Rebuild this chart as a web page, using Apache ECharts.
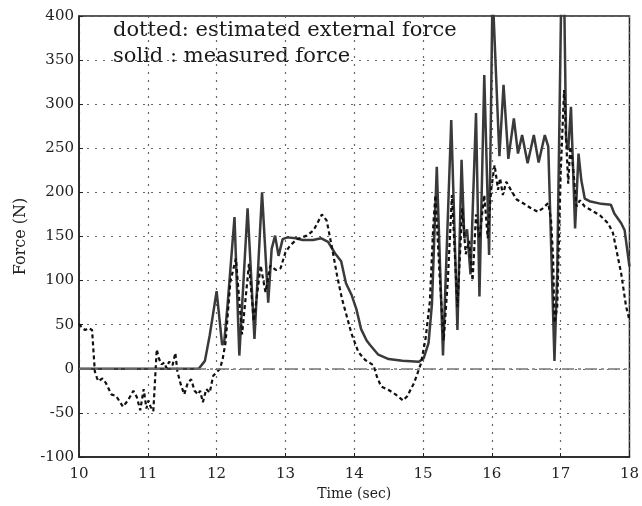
<!DOCTYPE html>
<html>
<head>
<meta charset="utf-8">
<script src="https://cdn.jsdelivr.net/npm/echarts@6/dist/echarts.min.js"></script>
<style>
html,body{margin:0;padding:0;background:#fff;}
#chart{width:642px;height:506px;}
</style>
</head>
<body>
<div id="chart"></div>
<script>
// Measured force (solid)
const measuredT = [10.0,11.74,11.83,11.9,11.96,12.0,12.05,12.08,12.11,12.16,12.26,12.33,12.45,12.55,12.66,12.75,12.80,12.85,12.90,12.96,13.03,13.15,13.25,13.40,13.52,13.62,13.72,13.81,13.88,13.96,14.03,14.1,14.18,14.23,14.35,14.5,14.7,14.94,15.01,15.08,15.13,15.16,15.2,15.29,15.41,15.5,15.56,15.60,15.64,15.69,15.77,15.82,15.89,15.96,16.01,16.03,16.11,16.17,16.24,16.32,16.38,16.44,16.52,16.61,16.68,16.77,16.82,16.91,16.95,17.01,17.05,17.08,17.11,17.15,17.21,17.26,17.30,17.35,17.42,17.59,17.73,17.78,17.88,17.93,18.0];
const measuredF = [0,0,9,38,68,88,50,27,30,73,172,15,182,34,200,75,136,151,128,147,149,148,146,146,148,144,131,122,97,84,68,45,32,27,16,11,9,8,12,29,74,141,229,15,282,44,237,148,158,107,290,82,333,129,430,430,241,322,238,284,244,265,233,265,234,265,252,9,108,430,430,259,248,297,159,244,214,193,190,187,186,176,165,157,116];

// Estimated external force (dotted)
const estimatedT = [10.0,10.05,10.09,10.14,10.19,10.23,10.26,10.28,10.34,10.39,10.47,10.54,10.64,10.71,10.79,10.84,10.89,10.94,10.98,11.01,11.04,11.08,11.13,11.16,11.2,11.24,11.27,11.31,11.36,11.40,11.43,11.48,11.53,11.58,11.63,11.68,11.73,11.76,11.80,11.85,11.90,11.95,12.0,12.05,12.09,12.13,12.2,12.28,12.37,12.47,12.54,12.64,12.71,12.78,12.86,12.93,13.0,13.07,13.17,13.31,13.41,13.53,13.6,13.68,13.75,13.82,13.89,13.96,14.06,14.16,14.28,14.33,14.39,14.5,14.6,14.71,14.77,14.87,14.97,15.04,15.1,15.15,15.18,15.24,15.30,15.36,15.42,15.5,15.57,15.62,15.67,15.72,15.77,15.82,15.89,15.94,15.99,16.04,16.09,16.12,16.16,16.21,16.29,16.36,16.45,16.57,16.67,16.74,16.82,16.86,16.89,16.91,16.95,17.0,17.05,17.08,17.11,17.14,17.18,17.23,17.28,17.35,17.44,17.57,17.69,17.76,17.81,17.88,17.95,18.0];
const estimatedF = [51,46,44,46,44,-3,-10,-14,-11,-16,-29,-31,-43,-36,-25,-32,-47,-23,-45,-36,-43,-48,22,12,5,7,1,8,4,18,-3,-18,-29,-16,-12,-25,-29,-25,-38,-23,-27,-8,-4,0,12,30,99,125,39,119,54,117,87,117,112,114,132,140,147,151,157,175,168,136,106,80,60,40,19,10,4,-9,-20,-24,-29,-36,-31,-16,6,36,77,164,197,107,32,100,197,70,182,130,145,100,175,148,197,148,203,231,203,216,197,212,201,192,188,182,178,182,188,169,127,52,70,221,316,259,210,252,229,184,191,184,180,174,165,154,135,108,71,55];

const xTicks = {min:10, max:18, step:1};
const yTicks = {min:-100, max:400, step:50};
const annotations = ['dotted: estimated external force', 'solid : measured force'];

const pair = (t, f) => t.map((v, i) => [v, f[i]]);
const serif = 'DejaVu Serif';

const chart = echarts.init(document.getElementById('chart'), null, {renderer:'canvas'});
chart.setOption({
  backgroundColor:'#fff',
  animation:false,
  grid:{left:79, right:9, top:16, bottom:48, show:true, borderColor:'#222', borderWidth:1.5, backgroundColor:'transparent'},
  xAxis:{
    type:'value', min:xTicks.min, max:xTicks.max, interval:xTicks.step,
    name:'Time (sec)', nameLocation:'middle', nameGap:30,
    nameTextStyle:{fontFamily:serif, fontSize:14, color:'#222'},
    axisLine:{show:true, onZero:false, lineStyle:{color:'#222', width:1.5}},
    axisTick:{show:true, inside:true, length:4, lineStyle:{color:'#222'}},
    axisLabel:{fontFamily:serif, fontSize:15, color:'#222', margin:10},
    splitLine:{show:true, lineStyle:{color:'#666', type:[2,6], width:1.2}}
  },
  yAxis:{
    type:'value', min:yTicks.min, max:yTicks.max, interval:yTicks.step,
    name:'Force (N)', nameLocation:'middle', nameGap:50,
    nameTextStyle:{fontFamily:serif, fontSize:16, color:'#222'},
    axisLine:{show:true, onZero:false, lineStyle:{color:'#222', width:1.5}},
    axisTick:{show:true, inside:true, length:4, lineStyle:{color:'#222'}},
    axisLabel:{fontFamily:serif, fontSize:15, color:'#222', margin:5},
    splitLine:{show:true, lineStyle:{color:'#666', type:[2,6], width:1.2}}
  },
  series:[
    {
      type:'line', name:'measured', data:pair(measuredT, measuredF),
      symbol:'none', clip:true,
      lineStyle:{color:'#3a3a3a', width:2.5},
      z:3,
      markLine:{
        silent:true, symbol:'none', label:{show:false},
        lineStyle:{color:'#777', type:[12,4,3,4], width:1.5},
        data:[{yAxis:0}]
      }
    },
    {
      type:'line', name:'estimated', data:pair(estimatedT, estimatedF),
      symbol:'none', clip:true,
      lineStyle:{color:'#111', width:2.2, type:[4,3]},
      z:4
    }
  ],
  graphic:[
    {type:'text', left:113, top:20, style:{text:annotations[0], font:'21px "DejaVu Serif"', fill:'#1a1a1a'}},
    {type:'text', left:113, top:46, style:{text:annotations[1], font:'21px "DejaVu Serif"', fill:'#1a1a1a', backgroundColor:'#fff'}}
  ]
});
</script>
</body>
</html>
